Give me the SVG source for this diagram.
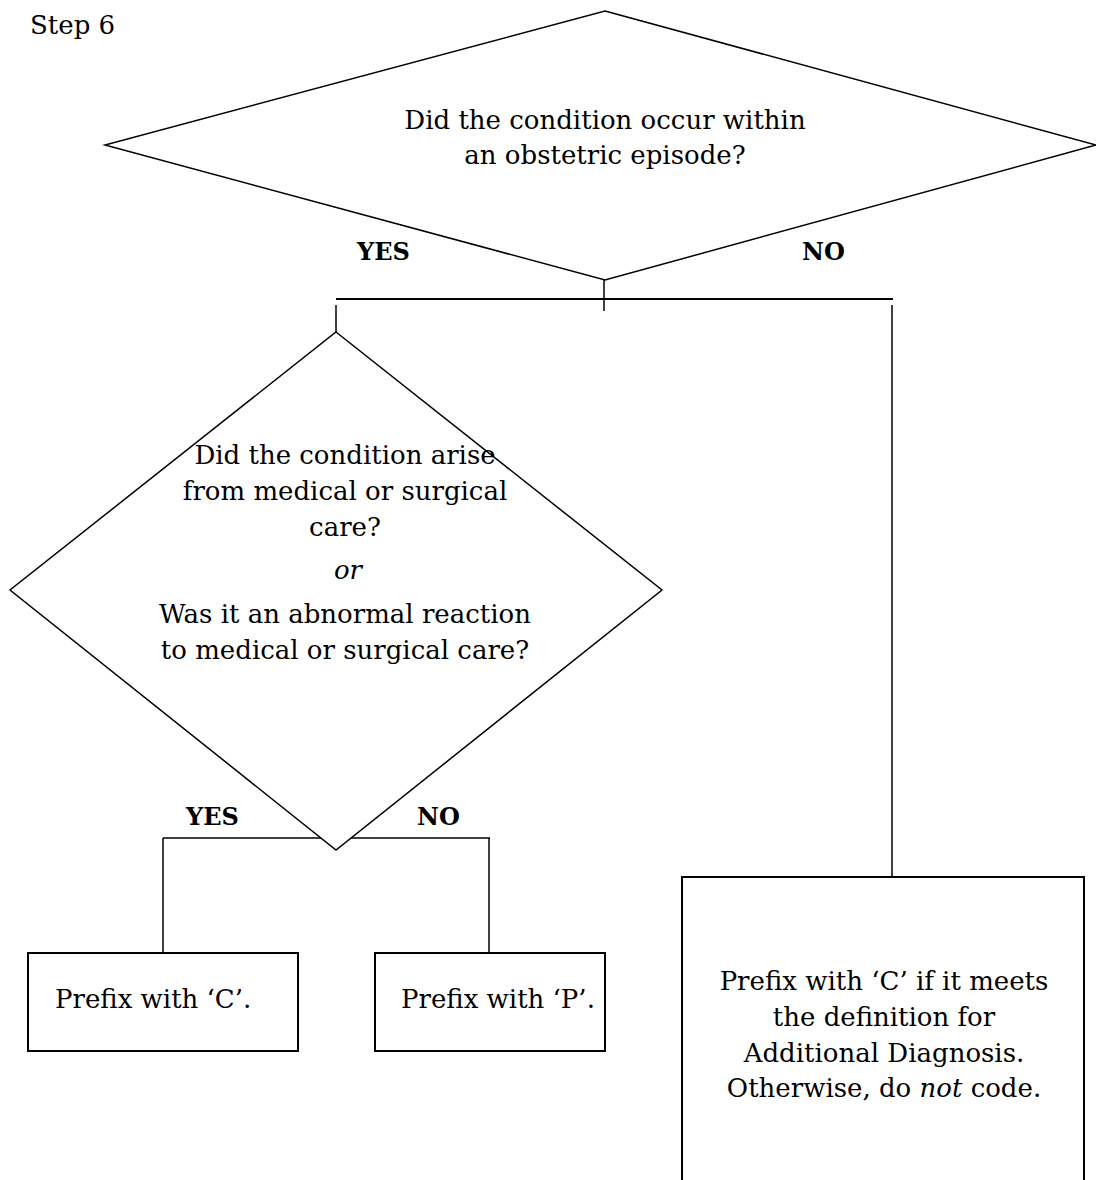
<svg xmlns="http://www.w3.org/2000/svg" width="1096" height="1180" viewBox="0 0 1096 1180">
<style>
.shape{fill:#fff;stroke:#000;stroke-width:1.5}
.box{fill:#fff;stroke:#000;stroke-width:2}
.conn{fill:none;stroke:#000;stroke-width:1.5}
.bar{fill:none;stroke:#000;stroke-width:2.2}
text{font-family:"DejaVu Serif","Liberation Serif",serif;font-size:26px;fill:#000}
.c{text-anchor:middle}
.lbl{font-weight:bold;font-size:24px}
</style>
<rect width="1096" height="1180" fill="#fff"/>
<text x="30" y="34">Step 6</text>
<g id="connectors">
<line class="conn" x1="604" y1="280" x2="604" y2="311"/>
<line class="bar" x1="336" y1="299" x2="893" y2="299"/>
<line class="conn" x1="336" y1="305" x2="336" y2="332"/>
<line class="conn" x1="892" y1="305" x2="892" y2="877"/>
<line class="conn" x1="163" y1="838" x2="490" y2="838"/>
<line class="conn" x1="163" y1="838" x2="163" y2="953"/>
<line class="conn" x1="489" y1="838" x2="489" y2="953"/>
</g>
<g id="q1">
<polygon class="shape" points="605,11 1096,145 605,280 105,145"/>
<text class="c" x="605" y="129">Did the condition occur within</text>
<text class="c" x="605" y="164">an obstetric episode?</text>
</g>
<g id="q1-labels">
<text class="lbl" x="357" y="260">YES</text>
<text class="lbl" x="802" y="260">NO</text>
</g>
<g id="q2">
<polygon class="shape" points="336,332 662,590 336,850 10,590"/>
<text class="c" x="345" y="464">Did the condition arise</text>
<text class="c" x="345" y="500">from medical or surgical</text>
<text class="c" x="345" y="536">care?</text>
<text class="c" x="348" y="579" font-style="italic">or</text>
<text class="c" x="345" y="623">Was it an abnormal reaction</text>
<text class="c" x="345" y="659">to medical or surgical care?</text>
</g>
<g id="q2-labels">
<text class="lbl" x="186" y="825">YES</text>
<text class="lbl" x="417" y="825">NO</text>
</g>
<g id="boxC">
<rect class="box" x="28" y="953" width="270" height="98"/>
<text x="55" y="1008">Prefix with ‘C’.</text>
</g>
<g id="boxP">
<rect class="box" x="375" y="953" width="230" height="98"/>
<text x="401" y="1008">Prefix with ‘P’.</text>
</g>
<g id="boxAdd">
<path class="box" d="M682,1182 V877 H1084 V1182"/>
<text class="c" x="884" y="990">Prefix with ‘C’ if it meets</text>
<text class="c" x="884" y="1026">the definition for</text>
<text class="c" x="884" y="1062">Additional Diagnosis.</text>
<text class="c" x="884" y="1097">Otherwise, do <tspan font-style="italic">not</tspan> code.</text>
</g>
</svg>
